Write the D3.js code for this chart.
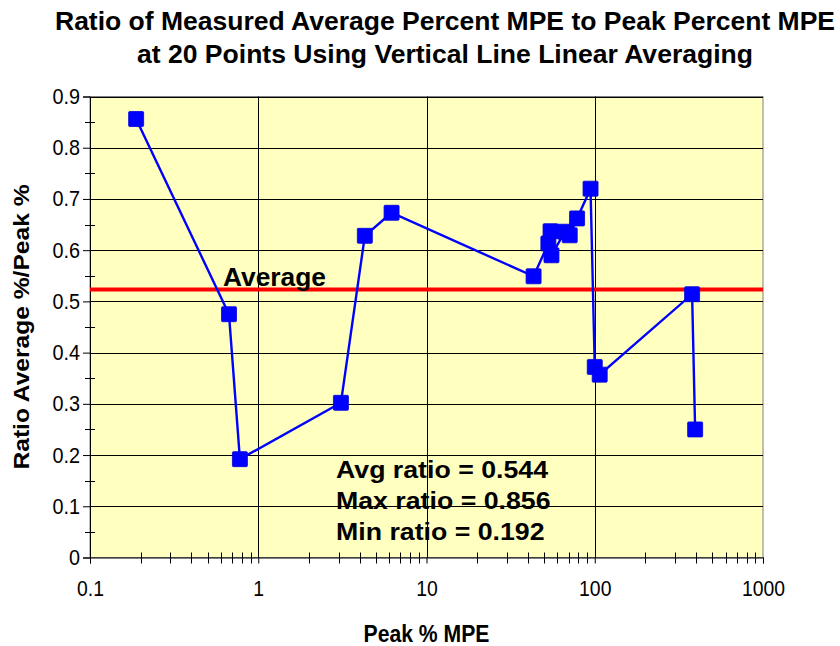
<!DOCTYPE html>
<html>
<head>
<meta charset="utf-8">
<script src="https://cdn.jsdelivr.net/npm/d3@7"></script>
<style>
  html, body { margin: 0; padding: 0; background: #fff; }
  svg { display: block; font-family: "Liberation Sans", Arial, sans-serif; }
</style>
</head>
<body>
<div id="chart"></div>
<script>
// values
const peakPct = [0.188, 0.67, 0.778, 3.1, 4.3, 6.2, 43.3, 53.0, 54.6, 55.3, 66.5, 71, 78.5, 94.4, 100, 107, 379, 395];
const ratio = [0.856, 0.475, 0.192, 0.302, 0.628, 0.673, 0.549, 0.613, 0.637, 0.590, 0.636, 0.629, 0.662, 0.720, 0.372, 0.357, 0.514, 0.250];
const avgRatio = 0.523;
const xTicks = [0.1, 1, 10, 100, 1000];
const yTicks = [0, 0.1, 0.2, 0.3, 0.4, 0.5, 0.6, 0.7, 0.8, 0.9];
const titleLines = [
  "Ratio of Measured Average Percent MPE to Peak Percent MPE",
  "at 20 Points Using Vertical Line Linear Averaging",
];
const statLines = ["Avg ratio = 0.544", "Max ratio = 0.856", "Min ratio = 0.192"];

const width = 840, height = 646;
const plot = { left: 90, right: 763, top: 96.5, bottom: 557.5 };

const data = peakPct.map((p, i) => ({ x: p, y: ratio[i] }));

const x = d3.scaleLog().domain([0.1, 1000]).range([plot.left, plot.right]);
const y = d3.scaleLinear().domain([0, 0.9]).range([plot.bottom, plot.top]);

const svg = d3
  .select("#chart")
  .append("svg")
  .attr("width", width)
  .attr("height", height)
  .attr("viewBox", [0, 0, width, height]);

// squeeze text horizontally, the reference is stretched a bit
function squeeze(sel, f) {
  sel.each(function () {
    const w = this.getComputedTextLength();
    d3.select(this).attr("textLength", w * f).attr("lengthAdjust", "spacingAndGlyphs");
  });
}

svg
  .append("rect")
  .attr("x", plot.left)
  .attr("y", plot.top)
  .attr("width", plot.right - plot.left)
  .attr("height", plot.bottom - plot.top)
  .attr("fill", "#ffffc0")
  .attr("stroke", "#808080");

// grid
svg
  .append("g")
  .attr("stroke", "#000")
  .attr("stroke-width", 1)
  .call((g) =>
    g
      .selectAll("line.h")
      .data(yTicks.filter((d) => d > 0))
      .join("line")
      .attr("x1", plot.left)
      .attr("x2", plot.right)
      .attr("y1", (d) => Math.round(y(d)) + 0.5)
      .attr("y2", (d) => Math.round(y(d)) + 0.5)
  )
  .call((g) =>
    g
      .selectAll("line.v")
      .data([1, 10, 100])
      .join("line")
      .attr("x1", (d) => Math.round(x(d)) + 0.5)
      .attr("x2", (d) => Math.round(x(d)) + 0.5)
      .attr("y1", plot.top)
      .attr("y2", plot.bottom)
  );

// axes
const yAxis = svg
  .append("g")
  .attr("transform", `translate(${plot.left},0)`)
  .call(
    d3
      .axisLeft(y)
      .tickValues(yTicks)
      .tickSize(7)
      .tickPadding(3)
      .tickFormat((d) => (d === 0 ? "0" : d3.format(".1f")(d)))
  );
yAxis.select(".domain").attr("stroke", "#000");
yAxis.selectAll("text").attr("font-size", 22).attr("font-family", null).attr("fill", "#000").call(squeeze, 0.9);

const xAxis = svg
  .append("g")
  .attr("transform", `translate(0,${plot.bottom})`)
  .call(d3.axisBottom(x).tickValues(xTicks).tickSize(6).tickPadding(17).tickFormat(d3.format("~g")));
xAxis.select(".domain").attr("stroke", "#000");
xAxis.selectAll("text").attr("font-size", 22).attr("font-family", null).attr("fill", "#000").call(squeeze, 0.88);

// minor ticks
const yMinor = d3.range(0.05, 0.9, 0.1);
svg
  .append("g")
  .attr("stroke", "#000")
  .selectAll("line")
  .data(yMinor)
  .join("line")
  .attr("x1", plot.left - 5)
  .attr("x2", plot.left + 5)
  .attr("y1", (d) => Math.round(y(d)) + 0.5)
  .attr("y2", (d) => Math.round(y(d)) + 0.5);

const xMinor = [0.1, 1, 10, 100].flatMap((k) => d3.range(2, 10).map((m) => m * k));
svg
  .append("g")
  .attr("stroke", "#000")
  .selectAll("line")
  .data(xMinor)
  .join("line")
  .attr("x1", (d) => Math.round(x(d)) + 0.5)
  .attr("x2", (d) => Math.round(x(d)) + 0.5)
  .attr("y1", plot.bottom - 5)
  .attr("y2", plot.bottom + 6);

// average line
svg
  .append("line")
  .attr("x1", plot.left)
  .attr("x2", plot.right)
  .attr("y1", y(avgRatio))
  .attr("y2", y(avgRatio))
  .attr("stroke", "#ff0000")
  .attr("stroke-width", 4);

svg
  .append("text")
  .attr("x", 223)
  .attr("y", 286)
  .attr("font-size", 25)
  .attr("font-weight", "bold")
  .attr("textLength", 103)
  .attr("lengthAdjust", "spacingAndGlyphs")
  .text("Average");

// series
const line = d3
  .line()
  .x((d) => x(d.x))
  .y((d) => y(d.y));

svg
  .append("path")
  .datum(data)
  .attr("fill", "none")
  .attr("stroke", "#0000ff")
  .attr("stroke-width", 2.4)
  .attr("d", line);

svg
  .append("g")
  .selectAll("rect")
  .data(data)
  .join("rect")
  .attr("x", (d) => x(d.x) - 7.5)
  .attr("y", (d) => y(d.y) - 7.5)
  .attr("width", 15)
  .attr("height", 15)
  .attr("rx", 1)
  .attr("fill", "#0000ff")
  .attr("stroke", "#0000e0")
  .attr("stroke-width", 0.8);

// stats box
const stats = svg
  .append("g")
  .selectAll("text")
  .data(statLines)
  .join("text")
  .attr("x", 336)
  .attr("y", (d, i) => 477.7 + i * 31.2)
  .attr("font-size", 24)
  .attr("font-weight", "bold")
  .text((d) => d);
const statF = 212 / stats.node().getComputedTextLength();
stats.call(squeeze, statF);

// titles
const titleW = [780, 616];
svg
  .append("g")
  .selectAll("text")
  .data(titleLines)
  .join("text")
  .attr("x", 445)
  .attr("y", (d, i) => (i === 0 ? 29.5 : 63))
  .attr("text-anchor", "middle")
  .attr("font-size", 26)
  .attr("font-weight", "bold")
  .attr("textLength", (d, i) => titleW[i])
  .attr("lengthAdjust", "spacingAndGlyphs")
  .text((d) => d);

svg
  .append("text")
  .attr("x", (plot.left + plot.right) / 2)
  .attr("y", 641.5)
  .attr("text-anchor", "middle")
  .attr("font-size", 23)
  .attr("font-weight", "bold")
  .attr("textLength", 126)
  .attr("lengthAdjust", "spacingAndGlyphs")
  .text("Peak % MPE");

svg
  .append("text")
  .attr("transform", `translate(29,${(plot.top + plot.bottom) / 2}) rotate(-90)`)
  .attr("text-anchor", "middle")
  .attr("font-size", 22)
  .attr("font-weight", "bold")
  .attr("textLength", 285)
  .attr("lengthAdjust", "spacingAndGlyphs")
  .text("Ratio Average %/Peak %");
</script>
</body>
</html>
